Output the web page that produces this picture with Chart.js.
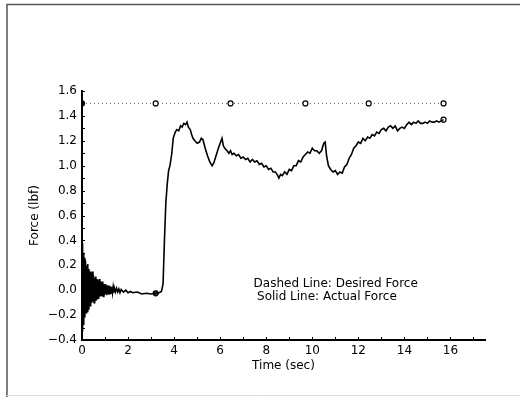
<!DOCTYPE html>
<html>
<head>
<meta charset="utf-8">
<script src="https://cdn.jsdelivr.net/npm/chart.js@4"></script>
<style>
  html, body { margin: 0; padding: 0; background: #fff; }
  #wrap { width: 520px; height: 397px; }
</style>
</head>
<body>
<div id="wrap"><canvas id="force"></canvas></div>
<script>
// actual force trace
var timeVals = [0, 0.025, 0.05, 0.075, 0.1, 0.125, 0.15, 0.175, 0.2, 0.225, 0.25, 0.275, 0.3, 0.325,
  0.35, 0.375, 0.4, 0.425, 0.45, 0.475, 0.5, 0.525, 0.55, 0.575, 0.6, 0.625, 0.65, 0.675, 0.7, 0.725,
  0.75, 0.775, 0.8, 0.825, 0.85, 0.875, 0.9, 0.925, 0.95, 0.975, 1.0, 1.025, 1.05, 1.075, 1.1, 1.125,
  1.15, 1.175, 1.2, 1.225, 1.25, 1.275, 1.3, 1.325, 1.35, 1.375, 1.4, 1.45, 1.5, 1.55, 1.6, 1.65, 1.7,
  1.8, 1.9, 2.0, 2.1, 2.2, 2.4, 2.6, 2.8, 3.0, 3.2, 3.35, 3.45, 3.52, 3.58, 3.64, 3.7, 3.76, 3.82, 3.9,
  3.96, 4.05, 4.12, 4.2, 4.28, 4.35, 4.42, 4.5, 4.56, 4.62, 4.7, 4.76, 4.82, 4.9, 5.0, 5.1, 5.18, 5.25,
  5.35, 5.45, 5.55, 5.65, 5.72, 5.82, 5.92, 6.0, 6.08, 6.14, 6.2, 6.3, 6.38, 6.45, 6.52, 6.6, 6.7, 6.8,
  6.9, 7.0, 7.1, 7.2, 7.3, 7.4, 7.5, 7.6, 7.7, 7.8, 7.9, 8.0, 8.1, 8.2, 8.3, 8.4, 8.5, 8.55, 8.62, 8.7,
  8.8, 8.9, 9.0, 9.1, 9.2, 9.3, 9.4, 9.5, 9.6, 9.7, 9.8, 9.9, 10.0, 10.1, 10.2, 10.3, 10.4, 10.5,
  10.56, 10.62, 10.7, 10.8, 10.9, 11.0, 11.1, 11.2, 11.3, 11.4, 11.5, 11.6, 11.7, 11.8, 11.9, 12.0,
  12.1, 12.2, 12.3, 12.4, 12.5, 12.6, 12.7, 12.8, 12.9, 13.0, 13.1, 13.2, 13.3, 13.4, 13.5, 13.6, 13.7,
  13.8, 13.9, 14.0, 14.1, 14.2, 14.3, 14.4, 14.5, 14.6, 14.7, 14.8, 14.9, 15.0, 15.1, 15.2, 15.3, 15.4,
  15.5, 15.6, 15.7];
var forceVals = [0.38, -0.33, 0.30, -0.28, 0.26, -0.22, 0.24, -0.18, 0.20, -0.17, 0.21, -0.15, 0.17,
  -0.12, 0.15, -0.13, 0.14, -0.10, 0.15, -0.09, 0.12, -0.10, 0.10, -0.08, 0.11, -0.07, 0.09, -0.06,
  0.08, -0.07, 0.09, -0.05, 0.07, -0.05, 0.06, -0.04, 0.07, -0.05, 0.05, -0.04, 0.05, -0.03, 0.04,
  -0.04, 0.04, -0.03, 0.03, -0.03, 0.035, -0.025, 0.03, -0.02, 0.025, -0.02, 0.02, -0.02, 0.02, -0.015,
  0.015, -0.015, 0.01, -0.02, 0.005, -0.015, 0.0, -0.02, -0.01, -0.02, -0.015, -0.03, -0.025, -0.03,
  -0.025, -0.02, -0.01, 0.05, 0.40, 0.70, 0.85, 0.96, 1.00, 1.10, 1.22, 1.27, 1.29, 1.28, 1.32, 1.31,
  1.34, 1.33, 1.35, 1.31, 1.29, 1.25, 1.22, 1.20, 1.18, 1.19, 1.22, 1.21, 1.14, 1.08, 1.03, 1.00, 1.02,
  1.08, 1.14, 1.18, 1.22, 1.16, 1.14, 1.12, 1.10, 1.12, 1.09, 1.10, 1.08, 1.09, 1.06, 1.07, 1.05, 1.06,
  1.03, 1.05, 1.03, 1.04, 1.01, 1.02, 0.99, 1.00, 0.97, 0.98, 0.95, 0.95, 0.92, 0.90, 0.93, 0.92, 0.95,
  0.93, 0.97, 0.96, 1.00, 1.00, 1.04, 1.03, 1.07, 1.09, 1.11, 1.10, 1.14, 1.12, 1.12, 1.10, 1.12, 1.18,
  1.19, 1.08, 1.00, 0.97, 0.95, 0.96, 0.93, 0.95, 0.94, 0.99, 1.01, 1.06, 1.09, 1.14, 1.16, 1.19, 1.18,
  1.22, 1.20, 1.23, 1.22, 1.25, 1.24, 1.27, 1.26, 1.29, 1.30, 1.28, 1.31, 1.32, 1.30, 1.32, 1.28, 1.30,
  1.31, 1.30, 1.33, 1.35, 1.33, 1.35, 1.34, 1.36, 1.34, 1.34, 1.35, 1.34, 1.36, 1.35, 1.35, 1.36, 1.35,
  1.36, 1.37];

// desired force and the circled sample points
var desiredTimes = [0, 3.2, 6.45, 9.7, 12.45, 15.7];
var desiredVals = [1.5, 1.5, 1.5, 1.5, 1.5, 1.5];
var actualMarkTimes = [3.2, 15.7];
var actualMarkVals = [-0.025, 1.37];

var xTicks = [0, 2, 4, 6, 8, 10, 12, 14, 16];
var yTicks = [-0.4, -0.2, 0, 0.2, 0.4, 0.6, 0.8, 1.0, 1.2, 1.4, 1.6];

var legendLines = ['Dashed Line: Desired Force', 'Solid Line: Actual Force'];

function pairs(xs, ys) {
  return xs.map(function (x, i) { return { x: x, y: ys[i] }; });
}

var FONT = "'DejaVu Sans', sans-serif";

// frame, inward minor ticks and the text note
var extras = {
  id: 'extras',
  afterDraw: function (chart) {
    var ctx = chart.ctx, xs = chart.scales.x, ys = chart.scales.y, a = chart.chartArea;
    ctx.save();
    // page frame
    ctx.strokeStyle = '#555';
    ctx.lineWidth = 1.5;
    ctx.beginPath();
    ctx.moveTo(520, 4.5); ctx.lineTo(7, 4.5); ctx.lineTo(7, 397);
    ctx.stroke();
    ctx.strokeStyle = '#ddd';
    ctx.lineWidth = 1;
    ctx.beginPath();
    ctx.moveTo(7, 395.5); ctx.lineTo(520, 395.5);
    ctx.stroke();
    // minor ticks
    ctx.strokeStyle = '#000';
    ctx.lineWidth = 1;
    ctx.beginPath();
    for (var t = 1; t <= 17; t++) {
      var px = Math.round(xs.getPixelForValue(t)) + 0.5;
      ctx.moveTo(px, a.bottom); ctx.lineTo(px, a.bottom - 3);
    }
    for (var k = -3; k <= 16; k++) {
      var py = Math.round(ys.getPixelForValue(k / 10)) + 0.5;
      ctx.moveTo(a.left, py); ctx.lineTo(a.left + 3, py);
    }
    ctx.stroke();
    // note
    ctx.fillStyle = '#000';
    ctx.font = '12px ' + FONT;
    ctx.textBaseline = 'middle';
    ctx.fillText(legendLines[0], xs.getPixelForValue(7.45), ys.getPixelForValue(0.05));
    ctx.fillText(legendLines[1], xs.getPixelForValue(7.6), ys.getPixelForValue(-0.055));
    ctx.restore();
  }
};

new Chart(document.getElementById('force'), {
  type: 'scatter',
  data: {
    datasets: [
      {
        label: 'Desired Force',
        data: pairs(desiredTimes, desiredVals),
        showLine: true,
        borderColor: '#666',
        borderWidth: 1,
        borderDash: [1, 3],
        pointRadius: 2.5,
        pointBorderWidth: 1.2,
        pointBorderColor: '#000',
        pointBackgroundColor: ['#000', '#fff', '#fff', '#fff', '#fff', '#fff']
      },
      {
        label: 'Actual Force',
        data: pairs(timeVals, forceVals),
        showLine: true,
        borderColor: '#000',
        borderWidth: 1.6,
        pointRadius: 0,
        tension: 0
      },
      {
        label: 'Actual marks',
        data: pairs(actualMarkTimes, actualMarkVals),
        showLine: false,
        pointRadius: 2.5,
        pointBorderWidth: 1.2,
        pointBorderColor: '#000',
        pointBackgroundColor: ['#333', '#fff']
      }
    ]
  },
  options: {
    responsive: true,
    maintainAspectRatio: false,
    animation: false,
    layout: { padding: { top: 91, right: 35, left: 0, bottom: 0 } },
    plugins: { legend: { display: false }, tooltip: { enabled: false } },
    scales: {
      x: {
        type: 'linear',
        min: 0,
        max: 17.5,
        afterBuildTicks: function (s) { s.ticks = xTicks.map(function (v) { return { value: v }; }); },
        afterFit: function (s) { s.height = 57; },
        grid: { display: false, drawTicks: false },
        border: { display: true, color: '#000', width: 2 },
        ticks: { color: '#000', font: { family: FONT, size: 12 }, padding: 4, maxRotation: 0 },
        title: { display: true, text: 'Time (sec)', color: '#000', font: { family: FONT, size: 12 }, padding: { top: 0, bottom: 24 } }
      },
      y: {
        type: 'linear',
        min: -0.4,
        max: 1.6,
        afterBuildTicks: function (s) { s.ticks = yTicks.map(function (v) { return { value: v }; }); },
        afterFit: function (s) { s.width = 82; },
        grid: { display: false, drawTicks: false },
        border: { display: true, color: '#000', width: 2 },
        ticks: {
          color: '#000',
          font: { family: FONT, size: 12 },
          padding: 5,
          callback: function (v) {
            var s = Math.abs(v).toFixed(1);
            return v < -0.001 ? '\u2212' + s : s;
          }
        },
        title: { display: true, text: 'Force (lbf)', color: '#000', font: { family: FONT, size: 12 }, padding: { top: 28, bottom: 0 } }
      }
    }
  },
  plugins: [extras]
});
</script>
</body>
</html>
